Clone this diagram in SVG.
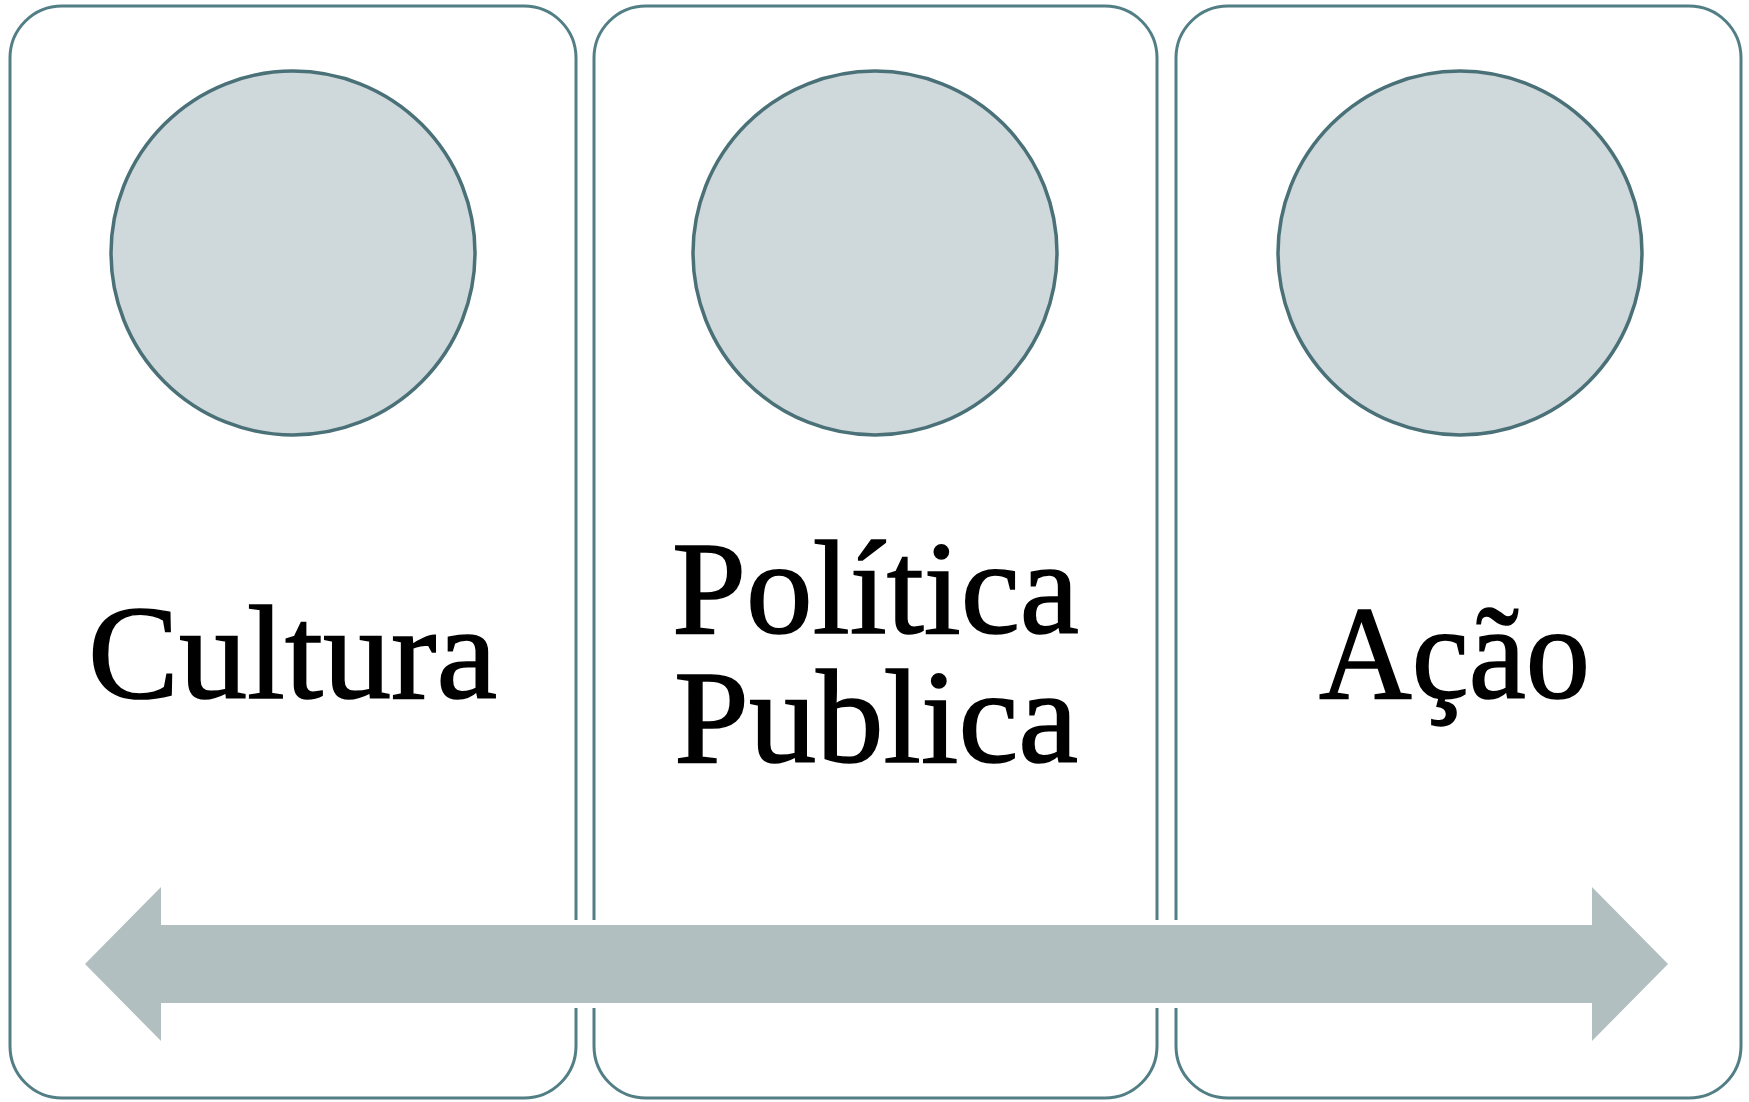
<svg xmlns="http://www.w3.org/2000/svg" width="1749" height="1102" viewBox="0 0 1749 1102">
<style>
.box{fill:#ffffff;stroke:#527e85;stroke-width:3}
.circ{fill:#cfd8da;stroke:#4a7178;stroke-width:3.5}
.lbl{font-family:"Liberation Serif","Times New Roman",serif;font-size:134px;fill:#000000;stroke:#000000;stroke-width:1.6;text-anchor:middle}
.arrow{fill:#b1bfc0;stroke:#ffffff;stroke-width:10;paint-order:stroke;stroke-linejoin:miter}
</style>
<rect x="0" y="0" width="1749" height="1102" fill="#ffffff"/>
<g id="node-cultura">
<rect class="box" x="10" y="6" width="566" height="1092" rx="52" ry="52"/>
<circle class="circ" cx="293" cy="253" r="182"/>
<text class="lbl" x="292.5" y="698" textLength="409" lengthAdjust="spacingAndGlyphs">Cultura</text>
</g>
<g id="node-politica">
<rect class="box" x="594" y="6" width="563" height="1092" rx="52" ry="52"/>
<circle class="circ" cx="875" cy="253" r="182"/>
<text class="lbl" x="875.5" y="633" textLength="407" lengthAdjust="spacingAndGlyphs">Política</text>
<text class="lbl" x="876" y="762" textLength="404" lengthAdjust="spacingAndGlyphs">Publica</text>
</g>
<g id="node-acao">
<rect class="box" x="1176" y="6" width="565" height="1092" rx="52" ry="52"/>
<circle class="circ" cx="1460" cy="253" r="182"/>
<text class="lbl" x="1454.5" y="698" textLength="271" lengthAdjust="spacingAndGlyphs">Ação</text>
</g>
<g id="connectors">
<polygon class="arrow" points="85,964 161,887 161,925 1592,925 1592,887 1668,964 1592,1041 1592,1003 161,1003 161,1041"/>
</g>
</svg>
